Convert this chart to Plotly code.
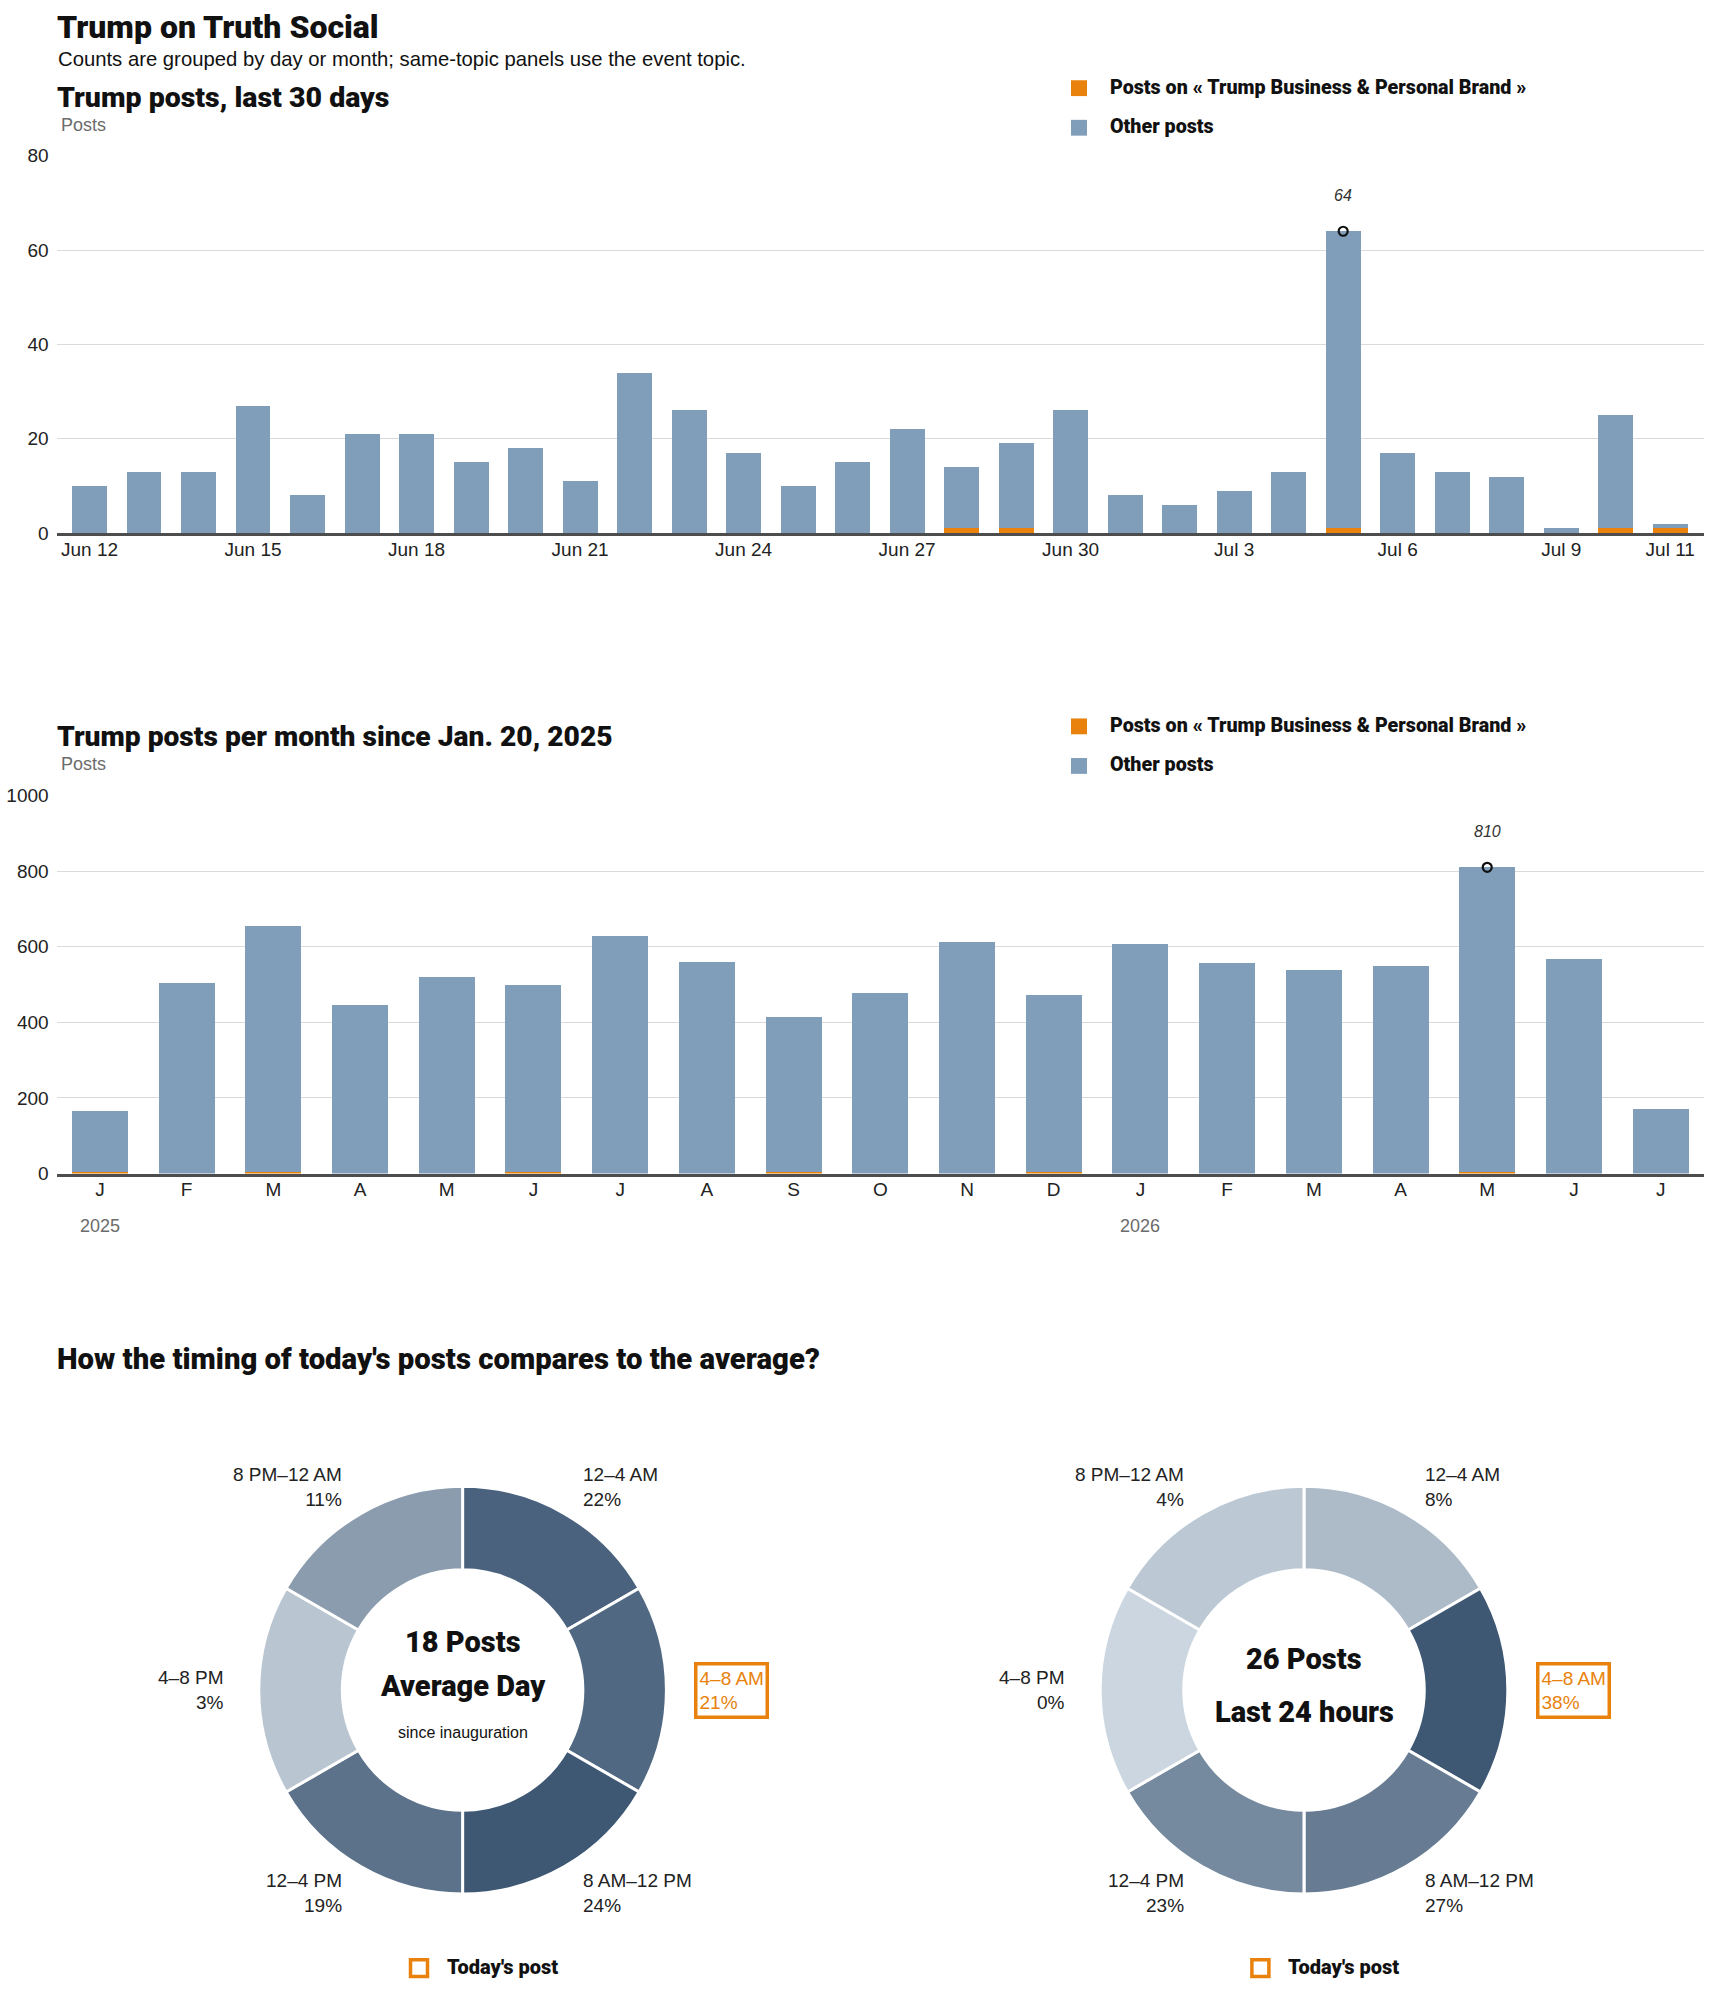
import math
import plotly.graph_objects as go

W, H = 1710, 1993

BLUE = "#809eba"
ORANGE = "#e8820c"
DARK = "#222222"
GRAY = "#6b6b6b"
GRID = "#dadada"
FONT = "Liberation Sans"
HEAVY = "Roboto"

# --- daily posts, last 30 days ---
day_labels = ["Jun 12", "Jun 13", "Jun 14", "Jun 15", "Jun 16", "Jun 17", "Jun 18",
              "Jun 19", "Jun 20", "Jun 21", "Jun 22", "Jun 23", "Jun 24", "Jun 25",
              "Jun 26", "Jun 27", "Jun 28", "Jun 29", "Jun 30", "Jul 1", "Jul 2",
              "Jul 3", "Jul 4", "Jul 5", "Jul 6", "Jul 7", "Jul 8", "Jul 9",
              "Jul 10", "Jul 11"]
day_total = [10, 13, 13, 27, 8, 21, 21, 15, 18, 11, 34, 26, 17, 10, 15,
             22, 14, 19, 26, 8, 6, 9, 13, 64, 17, 13, 12, 1, 25, 2]
day_topic = [0, 0, 0, 0, 0, 0, 0, 0, 0, 0, 0, 0, 0, 0, 0,
             0, 1, 1, 0, 0, 0, 0, 0, 1, 0, 0, 0, 0, 1, 1]
day_ticks = ["Jun 12", "Jun 15", "Jun 18", "Jun 21", "Jun 24", "Jun 27",
             "Jun 30", "Jul 3", "Jul 6", "Jul 9", "Jul 11"]

# --- monthly posts since Jan. 20, 2025 ---
month_keys = ["2025-01", "2025-02", "2025-03", "2025-04", "2025-05", "2025-06",
              "2025-07", "2025-08", "2025-09", "2025-10", "2025-11", "2025-12",
              "2026-01", "2026-02", "2026-03", "2026-04", "2026-05", "2026-06",
              "2026-07"]
month_letters = ["J", "F", "M", "A", "M", "J", "J", "A", "S", "O", "N", "D",
                 "J", "F", "M", "A", "M", "J", "J"]
month_total = [166, 504, 654, 446, 520, 499, 628, 559, 413, 478, 612, 472,
               606, 557, 538, 549, 810, 567, 170]
month_topic = [3, 0, 3, 0, 0, 3, 0, 0, 3, 0, 0, 3,
               0, 0, 0, 0, 4, 0, 0]
year_marks = {"2025-01": "2025", "2026-01": "2026"}

# --- timing of posts (4-hour blocks) ---
blocks = ["12–4 AM", "4–8 AM", "8 AM–12 PM", "12–4 PM", "4–8 PM", "8 PM–12 AM"]
block_hours = [4, 4, 4, 4, 4, 4]
avg_share = [22, 21, 24, 19, 3, 11]
today_share = [8, 38, 27, 23, 0, 4]
today_block = "4–8 AM"
avg_posts = 18
today_posts = 26

TOPIC = "Trump Business & Personal Brand"


def px(x):
    return x / W


def py(y):
    return 1 - y / H


def shade(v, vmax, light=(203, 214, 224), dark=(62, 88, 116)):
    t = v / vmax if vmax else 0
    c = [round(l + (d - l) * t) for l, d in zip(light, dark)]
    return "rgb(%d,%d,%d)" % tuple(c)


def heavy(size, color="#111111"):
    return dict(size=size, color=color, family=HEAVY, weight=900)


fig = go.Figure()

day_other = [t - o for t, o in zip(day_total, day_topic)]
month_other = [t - o for t, o in zip(month_total, month_topic)]

fig.add_trace(go.Bar(x=day_labels, y=day_topic, marker_color=ORANGE, width=0.64,
                     marker_line_width=0, xaxis="x", yaxis="y"))
fig.add_trace(go.Bar(x=day_labels, y=day_other, marker_color=BLUE, width=0.64,
                     marker_line_width=0, xaxis="x", yaxis="y"))
fig.add_trace(go.Bar(x=month_keys, y=month_topic, marker_color=ORANGE, width=0.646,
                     marker_line_width=0, xaxis="x2", yaxis="y2"))
fig.add_trace(go.Bar(x=month_keys, y=month_other, marker_color=BLUE, width=0.646,
                     marker_line_width=0, xaxis="x2", yaxis="y2"))

# peak markers
i1 = day_total.index(max(day_total))
i2 = month_total.index(max(month_total))
peak_marker = dict(symbol="circle-open", size=9, color="#111111", line=dict(width=2.2))
fig.add_trace(go.Scatter(x=[day_labels[i1]], y=[day_total[i1]], mode="markers",
                         marker=peak_marker, xaxis="x", yaxis="y"))
fig.add_trace(go.Scatter(x=[month_keys[i2]], y=[month_total[i2]], mode="markers",
                         marker=peak_marker, xaxis="x2", yaxis="y2"))

# donuts
donuts = [
    (avg_share, 462.6, [f"{avg_posts} Posts", "Average Day", "since inauguration"],
     [1649, 1694, 1741], [29, 29, 16]),
    (today_share, 1304, [f"{today_posts} Posts", "Last 24 hours"],
     [1667, 1720], [29, 29]),
]
CY, R_OUT, R_LAB = 1698, 206, 237

annotations = []
shapes = []

for shares, cx, center_txt, center_y, center_sz in donuts:
    top = max(shares)
    fig.add_trace(go.Pie(
        values=block_hours, labels=blocks, sort=False, direction="clockwise",
        rotation=0, hole=0.59, textinfo="none", hoverinfo="label",
        marker=dict(colors=[shade(s, top) for s in shares],
                    line=dict(color="white", width=3)),
        domain=dict(x=[px(cx - R_OUT), px(cx + R_OUT)],
                    y=[py(CY + R_OUT), py(CY - R_OUT)]),
    ))
    for k, (name, s) in enumerate(zip(blocks, shares)):
        ang = math.radians(30 + 60 * k)
        lx = cx + R_LAB * math.sin(ang)
        ly = CY - R_LAB * math.cos(ang)
        right = math.sin(ang) > 0
        hl = name == today_block
        ann = dict(text=f"{name}<br>{s}%", x=px(lx), y=py(ly), xref="paper", yref="paper",
                   xanchor="left" if right else "right", yanchor="middle",
                   align="left" if right else "right", showarrow=False,
                   font=dict(size=19, color=ORANGE if hl else DARK, family=FONT))
        if hl:
            ann.update(bordercolor=ORANGE, borderwidth=3.5, borderpad=2,
                       x=px(lx - 5.5 if right else lx + 5.5))
        annotations.append(ann)
    for t, y, s in zip(center_txt, center_y, center_sz):
        f = heavy(s) if s > 20 else dict(size=s, color="#111111", family=FONT)
        annotations.append(dict(text=t, x=px(cx), y=py(y), xref="paper", yref="paper",
                                showarrow=False, xanchor="center", yanchor="middle", font=f))
    # "Today's post" key
    kx = cx - 53.6
    shapes.append(dict(type="rect", xref="paper", yref="paper",
                       x0=px(kx + 1.5), x1=px(kx + 18.5), y0=py(1987.5), y1=py(1970.5),
                       line=dict(color=ORANGE, width=3.5), fillcolor="white"))
    annotations.append(dict(text="Today's post", x=px(kx + 36), y=py(1978),
                            xref="paper", yref="paper", xanchor="left", yanchor="middle",
                            showarrow=False, font=heavy(20)))


def text(t, x, y, font):
    annotations.append(dict(text=t, x=px(x), y=py(y), xref="paper", yref="paper",
                            xanchor="left", yanchor="middle", showarrow=False, font=font))


text("Trump on Truth Social", 55, 17, heavy(32))
text("Counts are grouped by day or month; same-topic panels use the event topic.", 56, 50,
     dict(size=20.3, color="#111111", family=FONT))
text("Trump posts, last 30 days", 55, 88, heavy(28.5))
text("Posts", 59, 116, dict(size=18, color=GRAY, family=FONT))
text("Trump posts per month since Jan. 20, 2025", 55, 734, heavy(28.2))
text("Posts", 59, 762, dict(size=18, color=GRAY, family=FONT))
text("How the timing of today's posts compares to the average?", 55, 1363, heavy(29.3))

# legends
for ytop in (71, 716):
    for dy, col, lab in ((0, ORANGE, f"Posts on « {TOPIC} »"),
                         (40, BLUE, "Other posts")):
        shapes.append(dict(type="rect", xref="paper", yref="paper",
                           x0=px(1071), x1=px(1087), y0=py(ytop + dy + 16), y1=py(ytop + dy),
                           line_width=0, fillcolor=col))
        text(lab, 1108, ytop + dy + 7, heavy(19.7))

# peak labels
annotations.append(dict(text=f"<i>{day_total[i1]}</i>", x=day_labels[i1], y=day_total[i1],
                        xref="x", yref="y", yshift=36, showarrow=False,
                        font=dict(size=16, color="#333333", family=FONT)))
annotations.append(dict(text=f"<i>{month_total[i2]}</i>", x=month_keys[i2], y=month_total[i2],
                        xref="x2", yref="y2", yshift=36, showarrow=False,
                        font=dict(size=16, color="#333333", family=FONT)))

# year labels
for key, yr in year_marks.items():
    annotations.append(dict(text=yr, x=key, y=py(1229), xref="x2", yref="paper",
                            showarrow=False, xanchor="center", yanchor="middle",
                            font=dict(size=18, color=GRAY, family=FONT)))

xcommon = dict(type="category", showgrid=False, zeroline=False, showline=True,
               linecolor="#4d4d4d", linewidth=2.5, ticks="", ticklabelstandoff=-3,
               tickfont=dict(size=19, color=DARK, family=FONT), fixedrange=True)
ycommon = dict(showgrid=True, gridcolor=GRID, gridwidth=1, zeroline=False,
               showline=False, ticks="", ticklabelstandoff=7,
               tickfont=dict(size=19, color=DARK, family=FONT), fixedrange=True)

fig.update_layout(
    width=W, height=H, margin=dict(l=0, r=0, t=0, b=0),
    paper_bgcolor="white", plot_bgcolor="white",
    barmode="stack", bargap=0.36, showlegend=False,
    font=dict(family=FONT, color=DARK),
    xaxis=dict(xcommon, domain=[px(56.6), px(1704)], anchor="y",
               range=[-0.604, 29.62], tickmode="array",
               tickvals=day_ticks, ticktext=day_ticks),
    yaxis=dict(ycommon, domain=[py(528.7), py(147.3)], anchor="x",
               range=[0, 80], dtick=20),
    xaxis2=dict(xcommon, domain=[px(56.6), px(1704)], anchor="y2",
                range=[-0.5, 18.5], tickmode="array",
                tickvals=month_keys, ticktext=month_letters),
    yaxis2=dict(ycommon, domain=[py(1176), py(793.8)], anchor="x2",
                range=[0, 1000], dtick=200),
    annotations=annotations,
    shapes=shapes,
)

fig.write_html("out.html", config={"displayModeBar": False},
               post_script="document.body.style.margin='0';")
